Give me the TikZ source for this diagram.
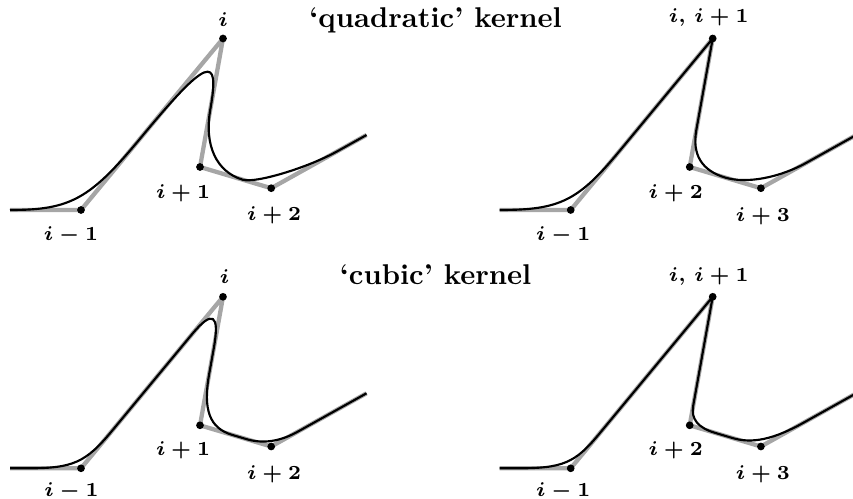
\documentclass[tikz,border=0pt]{standalone}
\usepackage{amsmath}
\usetikzlibrary{positioning,calc}
\tikzset{
  ctrl/.style ={line width=1.5pt, black!35, line join=round},
  crv/.style  ={line width=0.75pt, black},
  lbl/.style  ={font=\scriptsize\boldmath, inner sep=0pt},
  ttl/.style  ={font=\bfseries, inner sep=0pt, anchor=base},
}
% rounded corner at #1 (neighbours #2, #3): cut at #4 / #5, handles at #6 / #7
\newcommand{\kround}[7]{%
  -- ($(#1)!#4!(#2)$)
  .. controls ($(#1)!#6!(#2)$) and ($(#1)!#7!(#3)$)
  .. ($(#1)!#5!(#3)$)}

\begin{document}
\begin{tikzpicture}[x=0.35pt, y=-0.35pt]
  \useasboundingbox (0,0) rectangle (853,499);

  % the same control polygon in all four panels
  \foreach \q/\dx/\dy in {a/0/0, b/489.7/0, c/0/258.3, d/489.7/258.3}{
    \begin{scope}[shift={(\dx,\dy)}]
      \coordinate (\q0) at (10,210);
      \coordinate (\q1) at (81,210);
      \coordinate (\q2) at (223,38.5);
      \coordinate (\q3) at (200,167);
      \coordinate (\q4) at (271.2,188.2);
      \coordinate (\q5) at (366.5,135);
    \end{scope}
  }

  \node[ttl] (tquad) at (435.6,27.3) {`quadratic' kernel};
  \node[ttl] (tcub)  at (435.6,284.3) {`cubic' kernel};

  \foreach \q in {a,b,c,d}
    \draw[ctrl] (\q0) -- (\q1) -- (\q2) -- (\q3) -- (\q4) -- (\q5);

  % quadratic, single knots
  \draw[crv] (a0) \kround{a1}{a0}{a2}{1}{0.42}{0.15}{0.063}
                  \kround{a2}{a1}{a3}{0.58}{0.55}{0.116}{0.11}
                  \kround{a3}{a2}{a4}{0.45}{0.6}{0.171}{0.228}
                  \kround{a4}{a3}{a5}{0.4}{0.7}{0.22}{0.385} -- (a5);
  % quadratic, double knot at the top
  \draw[crv] (b0) \kround{b1}{b0}{b2}{1}{0.35}{0.15}{0.0525} -- (b2)
                  \kround{b3}{b2}{b4}{0.29}{0.5}{0.0967}{0.1667}
                  \kround{b4}{b3}{b5}{0.5}{0.49}{0.2}{0.196} -- (b5);
  % cubic, single knots
  \draw[crv] (c0) \kround{c1}{c0}{c2}{0.75}{0.22}{0.1125}{0.033}
                  \kround{c2}{c1}{c3}{0.22}{0.4}{0.0733}{0.1333}
                  \kround{c3}{c2}{c4}{0.4}{0.45}{0.12}{0.135}
                  \kround{c4}{c3}{c5}{0.35}{0.28}{0.1167}{0.0933} -- (c5);
  % cubic, double knot at the top
  \draw[crv] (d0) \kround{d1}{d0}{d2}{0.75}{0.2}{0.1125}{0.03} -- (d2)
                  \kround{d3}{d2}{d4}{0.15}{0.35}{0.05}{0.1167}
                  \kround{d4}{d3}{d5}{0.4}{0.45}{0.12}{0.135} -- (d5);

  \foreach \q in {a,b,c,d}
    \foreach \k in {1,...,4}
      \fill (\q\k) circle (1.35pt);

  % labels
  \node[lbl] (la1) at ($(a1)+(-10,25)$)   {$i-1$};
  \node[lbl] (la2) at ($(a2)+(0,-18.5)$)  {$i$};
  \node[lbl] (la3) at ($(a3)+(-17,26)$)   {$i+1$};
  \node[lbl] (la4) at ($(a4)+(3,27)$)     {$i+2$};

  \node[lbl] (lb1) at ($(b1)+(-7.5,25)$)  {$i-1$};
  \node[lbl] (lb2) at ($(b2)+(-4,-21)$)   {$i,\,i+1$};
  \node[lbl] (lb3) at ($(b3)+(-14,26)$)   {$i+2$};
  \node[lbl] (lb4) at ($(b4)+(2,28)$)     {$i+3$};

  \node[lbl] (lc1) at ($(c1)+(-9.5,23.5)$) {$i-1$};
  \node[lbl] (lc2) at ($(c2)+(1.5,-20.5)$) {$i$};
  \node[lbl] (lc3) at ($(c3)+(-17,25)$)    {$i+1$};
  \node[lbl] (lc4) at ($(c4)+(3,28)$)      {$i+2$};

  \node[lbl] (ld1) at ($(d1)+(-7.5,23.5)$) {$i-1$};
  \node[lbl] (ld2) at ($(d2)+(-4,-20)$)    {$i,\,i+1$};
  \node[lbl] (ld3) at ($(d3)+(-14,25)$)    {$i+2$};
  \node[lbl] (ld4) at ($(d4)+(2,28)$)      {$i+3$};
\end{tikzpicture}
\end{document}
